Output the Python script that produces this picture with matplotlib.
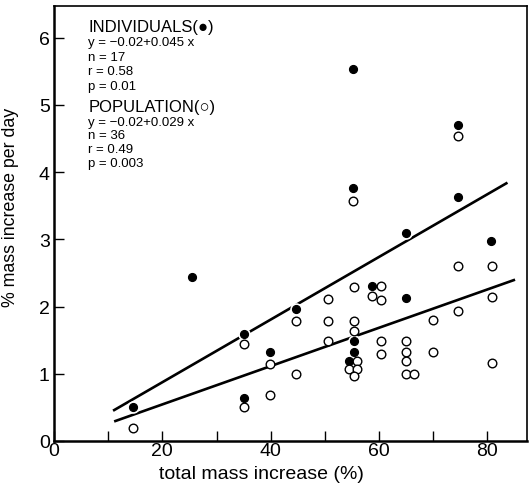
import matplotlib
matplotlib.use("Agg")
import matplotlib.pyplot as plt
import numpy as np

# Individuals (filled circles)
ind_x = [14.6, 25.5, 35.1, 35.1, 39.9, 44.6, 55.1, 55.1, 55.4, 55.4, 54.4, 58.7, 65.0, 65.0, 74.5, 74.5, 80.6]
ind_y = [0.51, 2.44, 1.59, 0.64, 1.32, 1.97, 5.53, 3.77, 1.49, 1.33, 1.19, 2.30, 2.13, 3.10, 4.70, 3.63, 2.98]

# Population (open circles)
pop_x = [14.6, 35.1, 35.1, 39.9, 39.9, 44.6, 44.6, 50.5, 50.5, 50.5,
         55.4, 55.4, 55.4, 56.0, 54.4, 56.0, 55.3, 58.7, 60.3, 60.3,
         60.3, 60.3, 65.0, 65.0, 65.0, 65.0, 66.5, 69.9, 69.9, 74.6,
         74.6, 80.9, 80.9, 80.9, 55.1, 74.5]
pop_y = [0.19, 1.44, 0.51, 1.15, 0.69, 1.79, 1.00, 2.11, 1.79, 1.48,
         2.29, 1.79, 1.64, 1.19, 1.07, 1.07, 0.96, 2.16, 2.30, 2.09,
         1.48, 1.29, 1.48, 1.32, 1.19, 1.00, 1.00, 1.80, 1.33, 2.60,
         1.94, 2.61, 2.14, 1.16, 3.57, 4.54]

# Regression lines (intercept, slope, x range) as drawn
ind_fit = (-0.058, 0.0466)
ind_range = (10.9, 83.7)
pop_fit = (-0.026, 0.0285)
pop_range = (11.1, 85.1)

ind_text = ["y = \u22120.02+0.045 x", "n = 17", "r = 0.58", "p = 0.01"]
pop_text = ["y = \u22120.02+0.029 x", "n = 36", "r = 0.49", "p = 0.003"]

plt.rcParams['font.family'] = ['Liberation Sans', 'DejaVu Sans']

fig = plt.figure(figsize=(5.30, 4.85), dpi=100)
ax = fig.add_axes([0.1019, 0.0887, 0.9943 - 0.1019, 0.9856 - 0.0887])

for (b0, b1), (x0, x1) in [(ind_fit, ind_range), (pop_fit, pop_range)]:
    xs = np.array([x0, x1])
    ax.plot(xs, b0 + b1 * xs, color='black', lw=1.9, solid_capstyle='butt', zorder=2)

# white halos to break lines at points
ax.plot(ind_x, ind_y, 'o', ms=8.0, color='white', mec='white', zorder=3)
ax.plot(ind_x, ind_y, 'o', ms=5.6, color='black', mec='black', zorder=4)
ax.plot(pop_x, pop_y, 'o', ms=6.2, mfc='white', mec='black', mew=1.0, zorder=4)

ax.set_xlim(0, 87.3)
ax.set_ylim(0, 6.47)
ax.set_xticks(np.arange(0, 81, 20))
ax.set_xticks(np.arange(10, 81, 20), minor=True)
ax.set_yticks(np.arange(0, 7, 1))
ax.tick_params(axis='both', which='both', direction='in', labelsize=14, width=1.0)
ax.tick_params(axis='both', which='major', length=7)
ax.tick_params(axis='x', which='minor', length=7)
ax.tick_params(axis='x', pad=1)
ax.tick_params(axis='y', pad=3)

for s in ['left', 'bottom']:
    ax.spines[s].set_linewidth(1.8)
for s in ['top', 'right']:
    ax.spines[s].set_linewidth(1.2)

ax.set_xlabel('total mass increase (%)', fontsize=14, labelpad=0)
ax.xaxis.set_label_coords(0.438, -0.055)
ax.set_ylabel('% mass increase per day', fontsize=12.8, labelpad=6)
ax.yaxis.set_label_coords(-0.075, 0.54)

tx = 6.3
ax.text(tx, 6.16, 'INDIVIDUALS(\u25cf)', fontsize=12, va='center', ha='left')
for i, t in enumerate(ind_text):
    ax.text(tx, 5.93 - i * 0.215, t, fontsize=9.5, va='center', ha='left')
ax.text(tx, 4.97, 'POPULATION(\u25cb)', fontsize=12, va='center', ha='left')
for i, t in enumerate(pop_text):
    ax.text(tx, 4.75 - i * 0.205, t, fontsize=9.5, va='center', ha='left')

fig.savefig('out.png', dpi=100)
